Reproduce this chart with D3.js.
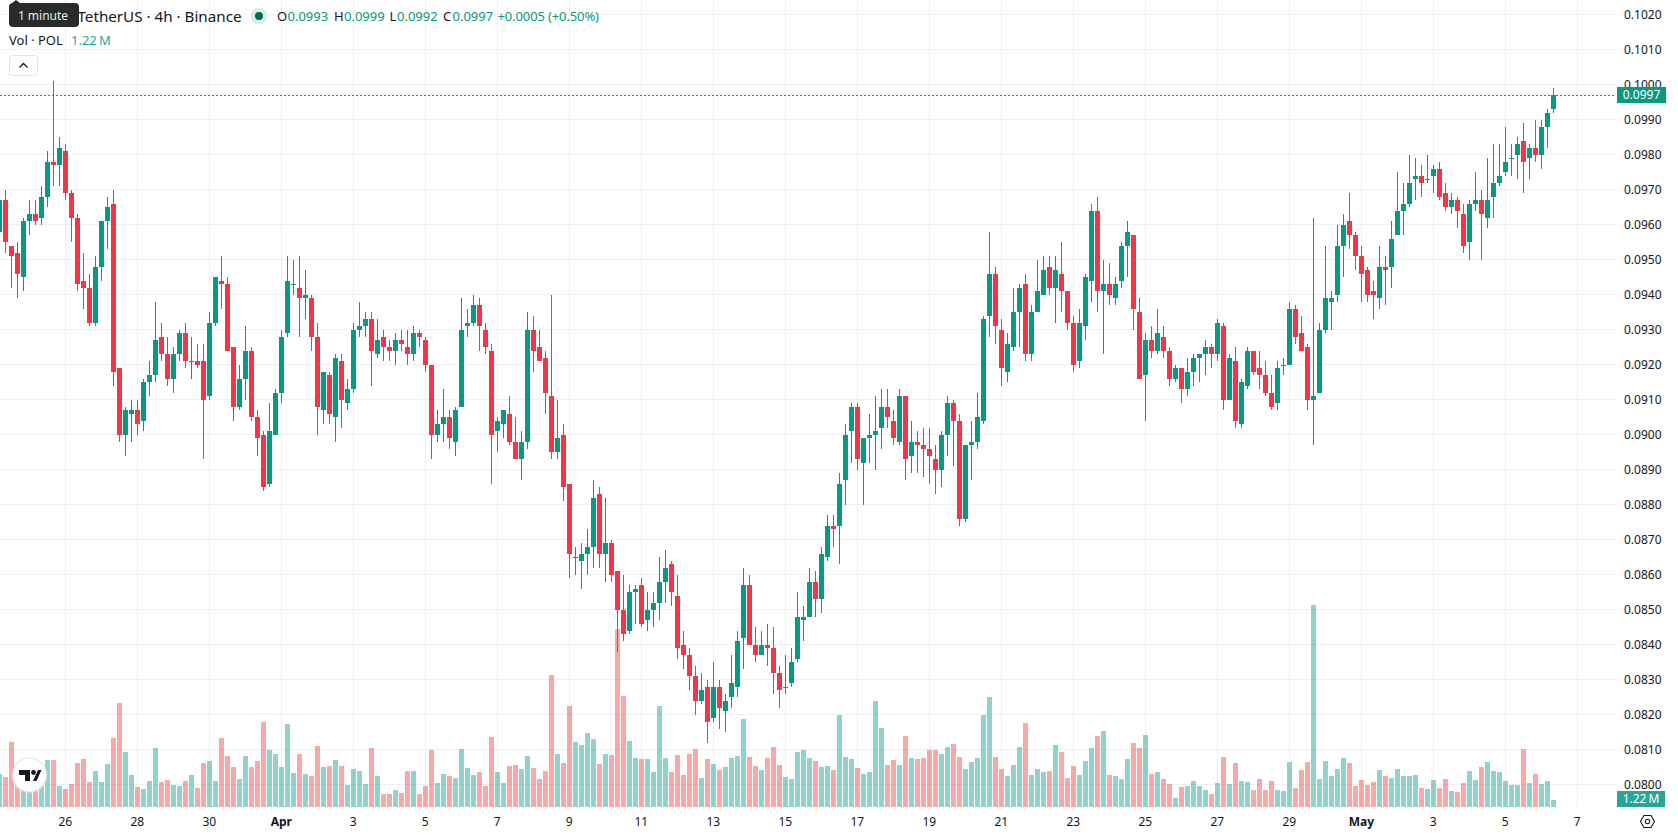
<!DOCTYPE html>
<html>
<head>
<meta charset="utf-8">
<title>POL / TetherUS 4h</title>
<script src="https://cdn.jsdelivr.net/npm/d3@7"></script>
<style>
  html, body { margin: 0; padding: 0; background: #fff; overflow: hidden; }
  svg { display: block; font-family: "Noto Sans", sans-serif; }
</style>
</head>
<body>
<svg id="chart" width="1678" height="835"></svg>
<script>
// Candle values are whole price ticks of 0.0001, oldest candle first, one candle every 4 hours.
const PRICE_TICK = 0.0001;
const opens = [958,967,954,952,945,961,963,962,968,978,977,981,969,962,944,942,932,948,961,966,919,900,906,907,904,915,917,928,923,916,923,929,921,921,921,911,932,944,943,925,908,916,924,905,900,886,900,912,929,943,942,939,939,928,907,917,905,921,909,913,930,931,933,923,928,925,924,927,925,923,929,927,920,900,903,905,898,908,931,932,937,930,924,901,903,906,898,893,898,930,925,922,911,895,900,886,865,864,866,868,883,866,869,861,850,844,855,857,847,850,852,858,863,854,840,837,831,824,828,819,828,821,825,828,842,857,840,837,840,839,832,828,829,836,847,848,858,853,865,874,874,887,901,908,892,899,900,902,908,904,898,911,894,898,897,896,893,890,900,909,904,876,897,898,904,934,946,930,918,925,935,943,923,935,940,948,942,946,941,932,921,931,944,964,941,943,939,944,954,957,935,917,927,924,928,924,916,919,913,918,922,923,925,923,931,910,921,903,914,924,919,917,912,909,920,920,936,929,925,910,912,930,938,940,954,961,957,951,947,941,939,948,948,957,964,966,973,974,973,974,976,969,965,967,963,955,966,967,962,968,972,975,979,980,984,979,982,980,988,993];
const highs = [970,970,954,955,962,967,967,971,981,1001,985,983,970,963,952,946,951,961,968,970,919,908,910,910,916,921,938,932,928,925,930,932,928,926,926,935,945,951,945,925,920,931,925,907,901,909,913,930,951,950,951,947,940,932,918,918,923,923,916,932,938,935,935,933,930,927,929,930,930,931,930,928,920,907,913,907,908,939,936,940,939,932,926,905,907,911,905,901,935,934,930,924,940,910,903,886,868,869,873,887,885,882,870,861,860,857,857,859,855,855,865,867,864,860,844,839,834,832,830,835,830,826,837,844,862,860,845,844,846,845,834,837,839,855,851,862,861,868,877,877,889,903,909,909,899,906,911,913,913,907,913,911,904,901,902,902,897,901,911,910,906,897,904,912,934,958,948,933,929,942,943,946,937,950,951,951,951,955,941,934,936,946,966,968,950,949,945,955,961,957,939,929,931,936,931,925,920,919,922,923,923,927,926,933,932,923,925,916,925,924,924,921,917,921,922,938,937,934,926,962,932,954,941,960,963,969,958,954,948,944,954,951,961,975,972,980,979,977,980,977,978,972,969,968,966,967,975,970,979,983,983,988,983,985,989,983,990,990,993,999];
const lows = [955,952,942,939,941,957,960,960,965,971,971,967,955,941,936,931,931,944,953,914,898,894,898,900,901,911,915,921,914,912,921,919,916,919,893,910,931,936,924,904,907,910,904,894,884,885,900,909,928,940,928,933,924,900,903,903,898,902,907,912,928,928,914,922,921,921,920,924,920,921,925,918,893,898,898,896,894,908,928,931,924,923,886,895,899,897,893,887,896,918,921,906,893,893,881,859,860,856,860,862,862,858,858,838,841,843,846,845,844,845,847,852,851,836,833,827,820,823,812,818,816,815,822,825,833,840,835,837,834,826,822,826,828,835,841,848,848,849,864,868,863,880,892,890,880,892,890,896,902,897,897,887,889,889,888,886,883,885,894,891,874,875,887,896,903,928,926,914,915,924,925,921,921,935,940,940,932,935,930,918,919,927,938,935,923,937,937,942,945,930,916,904,922,923,922,914,915,909,911,914,915,917,919,921,907,910,902,902,913,917,913,911,907,907,917,920,926,924,907,897,912,929,930,938,945,953,947,938,938,933,936,937,942,957,957,965,967,968,972,969,967,964,963,959,952,950,964,950,959,962,971,974,974,973,969,973,978,976,982,992];
const closes = [967,955,951,946,961,963,961,968,978,977,982,969,962,943,942,932,948,961,965,918,900,907,907,903,915,917,927,923,916,923,929,921,921,920,910,932,945,943,924,908,916,924,905,899,885,901,912,928,944,943,939,940,928,908,918,906,922,910,913,930,931,933,924,927,925,924,927,926,923,929,928,920,900,903,905,899,907,930,932,937,931,925,900,904,907,898,893,898,930,924,921,912,895,899,885,866,865,866,868,882,866,869,860,850,843,855,856,846,850,852,858,862,855,839,837,831,824,827,818,828,822,824,829,841,857,840,837,840,839,832,827,828,835,848,848,858,853,866,874,873,886,900,908,893,899,900,901,908,905,899,911,893,898,897,896,894,890,900,909,904,876,897,898,905,933,946,931,919,926,935,942,923,935,941,947,942,947,941,932,920,932,945,964,941,943,940,943,954,958,936,916,927,924,929,924,916,919,913,918,922,923,925,923,932,910,922,904,915,924,918,917,912,908,919,920,936,928,924,910,911,930,939,939,954,960,957,951,946,940,940,948,947,956,964,966,972,974,972,973,976,968,965,967,964,954,966,967,963,967,972,974,978,979,983,978,982,980,988,992,997];
// Traded volume per candle, in millions of POL.
const volumes = [5.75,5.23,11.33,4.01,2.96,2.61,2.96,4.71,8.19,8.19,3.66,3.14,4.01,7.67,8.37,4.36,6.27,4.36,7.49,12.03,18.13,9.59,5.58,3.49,3.14,4.53,10.28,4.36,4.71,3.83,3.66,4.53,5.58,3.31,7.67,8.02,4.53,12.03,8.89,6.97,4.88,8.89,6.97,8.02,14.82,9.94,9.24,6.97,14.47,5.93,9.24,5.75,5.40,10.63,6.97,7.15,8.19,7.15,3.83,6.62,6.27,4.01,10.28,5.40,2.27,2.27,2.96,2.44,6.27,6.27,2.27,3.66,9.94,4.18,5.75,5.40,5.05,10.11,6.80,5.58,6.10,3.66,12.20,6.10,4.18,7.15,7.32,6.62,8.89,6.80,4.88,6.27,23.01,9.24,7.67,17.60,11.33,10.81,12.90,11.85,7.49,9.24,9.06,31.03,19.35,11.50,8.54,8.37,8.37,6.10,17.60,8.54,6.10,9.06,5.58,9.24,10.11,5.05,8.37,7.49,6.45,6.97,8.54,8.89,15.34,8.72,7.15,6.45,8.54,10.46,7.32,5.23,4.88,9.59,9.94,8.54,8.02,6.97,7.15,6.45,16.04,8.72,8.37,6.80,5.75,6.10,18.48,13.77,7.32,8.19,7.32,12.38,8.54,8.37,8.54,9.94,9.94,9.24,10.46,10.98,8.72,6.62,7.84,8.54,16.04,19.17,8.72,6.62,5.40,7.32,10.46,14.64,5.58,6.62,6.10,6.27,10.81,9.59,5.05,7.15,5.58,8.02,10.28,12.38,13.25,5.58,5.40,4.88,8.37,11.16,10.28,12.55,5.75,6.10,4.88,4.01,1.57,3.49,3.66,4.53,3.66,2.96,2.27,4.18,8.72,4.01,7.67,4.53,4.36,2.96,4.88,2.96,4.53,2.96,2.79,7.84,3.31,6.45,7.84,35.21,4.88,8.02,5.40,6.62,8.54,7.67,3.66,4.71,3.83,4.36,6.45,5.40,5.05,6.62,5.40,5.40,5.58,3.31,3.14,4.71,3.31,4.88,2.79,2.61,4.18,6.27,4.71,6.97,7.84,6.27,6.10,4.53,3.83,3.83,10.11,4.18,5.75,4.01,4.53,1.22];

const priceTicks = d3.range(800, 1021, 10);
const firstCandle = Date.UTC(2026, 2, 24, 4);
const CANDLE_MS = 4 * 3600 * 1000;
const dateTicks = d3.utcDay.range(new Date(Date.UTC(2026, 2, 26)), new Date(Date.UTC(2026, 4, 8)), 2);

const COLOR_UP = "#089981", COLOR_DOWN = "#F23645";
const COLOR_VOL_UP = "rgba(38,166,154,0.5)", COLOR_VOL_DOWN = "rgba(239,83,80,0.5)";
const TEXT = "#131722", GRID = "#eeeff1";

const PANE_RIGHT = 1616, PANE_BOTTOM = 807;
const VOL_UNIT = "\u2009M";

const candles = opens.map((o, i) => ({
  time: new Date(firstCandle + i * CANDLE_MS),
  open: o, high: highs[i], low: lows[i], close: closes[i], volume: volumes[i],
  up: closes[i] >= o
}));

const x = d3.scaleUtc()
  .domain([new Date(Date.UTC(2026, 2, 26)), new Date(Date.UTC(2026, 4, 7))])
  .range([65.5, 1577.5]);
const y = d3.scaleLinear().domain([1000, 800]).range([84.5, 784.5]);
const yVol = d3.scaleLinear().domain([0, 40]).range([PANE_BOTTOM, PANE_BOTTOM - 229.6]);

const svg = d3.select("#chart");
svg.append("rect").attr("width", 1678).attr("height", 835).attr("fill", "#fff");

// Grid
const grid = svg.append("g").attr("stroke", GRID).attr("stroke-width", 1).attr("shape-rendering", "crispEdges");
grid.selectAll(".h").data(priceTicks).join("line").attr("class", "h")
  .attr("x1", 0).attr("x2", PANE_RIGHT).attr("y1", d => y(d)).attr("y2", d => y(d));
grid.selectAll(".v").data(dateTicks).join("line").attr("class", "v")
  .attr("x1", d => x(d)).attr("x2", d => x(d)).attr("y1", 0).attr("y2", PANE_BOTTOM);

// Volume bars sit under the candles
svg.append("g").attr("shape-rendering", "crispEdges")
  .selectAll("rect").data(candles).join("rect")
  .attr("x", d => x(d.time) - 2.5).attr("width", 5)
  .attr("y", d => yVol(d.volume)).attr("height", d => yVol(0) - yVol(d.volume))
  .attr("fill", d => d.up ? COLOR_VOL_UP : COLOR_VOL_DOWN);

// Candles
const candle = svg.append("g").attr("shape-rendering", "crispEdges")
  .selectAll("g").data(candles).join("g")
  .attr("fill", d => d.up ? COLOR_UP : COLOR_DOWN);
candle.append("rect")
  .attr("x", d => x(d.time) - 0.5).attr("width", 1)
  .attr("y", d => y(d.high)).attr("height", d => Math.max(1, y(d.low) - y(d.high)));
candle.append("rect")
  .attr("x", d => x(d.time) - 2.5).attr("width", 5)
  .attr("y", d => y(Math.max(d.open, d.close)))
  .attr("height", d => Math.max(1, Math.abs(y(d.open) - y(d.close))));

// Last price line
const last = candles[candles.length - 1];
const prev = candles[candles.length - 2];
svg.append("line")
  .attr("x1", 0).attr("x2", PANE_RIGHT).attr("y1", Math.floor(y(last.close)) + 0.5).attr("y2", Math.floor(y(last.close)) + 0.5)
  .attr("stroke", COLOR_UP).attr("stroke-width", 1).attr("stroke-dasharray", "2 2").attr("shape-rendering", "crispEdges");

// Price axis
const fmtPrice = v => (v * PRICE_TICK).toFixed(4);
const axisY = d3.axisRight(y).tickValues(priceTicks).tickSize(0).tickPadding(0).tickFormat(fmtPrice);
const gy = svg.append("g").attr("transform", "translate(1624,0)").call(axisY);
gy.select(".domain").remove();
gy.selectAll("text").attr("fill", TEXT).attr("font-size", 12).attr("font-family", '"Noto Sans", sans-serif');

// Date axis
const isMonthStart = d => d.getUTCDate() === 1;
const axisX = d3.axisBottom(x).tickValues(dateTicks).tickSize(0).tickPadding(0)
  .tickFormat(d => isMonthStart(d) ? d3.utcFormat("%b")(d) : d3.utcFormat("%-d")(d));
const gx = svg.append("g").attr("transform", "translate(-0.7,817)").call(axisX);
gx.select(".domain").remove();
gx.selectAll("text").attr("fill", TEXT).attr("font-size", 12).attr("font-family", '"Noto Sans", sans-serif')
  .attr("font-weight", d => isMonthStart(d) ? 700 : 400);

// Badges on the price axis
function badge(yTop, h, w, fill, label) {
  svg.append("rect").attr("x", 1617).attr("y", yTop).attr("width", w).attr("height", h).attr("fill", fill);
  svg.append("text").attr("x", 1617 + w / 2).attr("y", yTop + h / 2 + 0.5)
    .attr("text-anchor", "middle").attr("dominant-baseline", "middle")
    .attr("fill", "#fff").attr("font-size", 12).text(label);
}
badge(87, 16, 49, COLOR_UP, fmtPrice(last.close));
badge(791, 16, 48, "#26a69a", last.volume.toFixed(2) + VOL_UNIT);

// Legend, title row
const title = svg.append("g");
title.append("text").attr("x", 241.5).attr("y", 21.5).attr("text-anchor", "end")
  .attr("fill", TEXT).attr("font-size", 15.2).text("TetherUS · 4h · Binance");
title.append("circle").attr("cx", 259).attr("cy", 16).attr("r", 8.5).attr("fill", "#d9efec");
title.append("circle").attr("cx", 259).attr("cy", 16).attr("r", 4).attr("fill", "#056656");

const legendItems = [
  ["O", last.open, 277, 287.5], ["H", last.high, 334, 344],
  ["L", last.low, 389.5, 397], ["C", last.close, 443, 452.5]
];
const legend = svg.append("g").attr("font-size", 13);
legendItems.forEach(([k, v, kx, vx]) => {
  legend.append("text").attr("x", kx).attr("y", 21).attr("fill", TEXT).text(k);
  legend.append("text").attr("x", vx).attr("y", 21).attr("fill", COLOR_UP).text(fmtPrice(v));
});
const change = last.close - prev.close;
legend.append("text").attr("x", 497.5).attr("y", 21).attr("fill", COLOR_UP).attr("letter-spacing", -0.12)
  .text(`+${fmtPrice(change)} (+${(change / prev.close * 100).toFixed(2)}%)`);

// Legend, volume row
legend.append("text").attr("x", 9).attr("y", 45).attr("fill", TEXT).text("Vol · POL");
legend.append("text").attr("x", 71).attr("y", 45).attr("fill", "#26a69a").text(last.volume.toFixed(2) + VOL_UNIT);

// Collapse button
svg.append("rect").attr("x", 9.5).attr("y", 55.5).attr("width", 28).attr("height", 20).attr("rx", 3)
  .attr("fill", "#fff").attr("stroke", "#e0e3eb");
svg.append("path").attr("d", "M19.5 67.5 L23.5 63.5 L27.5 67.5").attr("fill", "none").attr("stroke", TEXT).attr("stroke-width", 1.3);

// Tooltip
svg.append("path").attr("d", "M12 3 L16 0 L20 3 Z").attr("fill", "#2a2a2a");
svg.append("rect").attr("x", 9).attr("y", 3).attr("width", 70).attr("height", 24).attr("rx", 4).attr("fill", "#2a2a2a");
svg.append("text").attr("x", 43).attr("y", 19.5).attr("text-anchor", "middle").attr("fill", "#e8e8e8").attr("font-size", 12).text("1 minute");

// Attribution logo
const logo = svg.append("g");
logo.append("circle").attr("cx", 29.5).attr("cy", 775).attr("r", 17).attr("fill", "#fff").attr("stroke", "#e6e6e6").attr("stroke-width", 1.2);
logo.append("path").attr("fill", "#131722").attr("d", "M19 770 H30 V781 H25 V775 H19 Z M33 781 L38 770 H41.5 L36.5 781 Z");
logo.append("circle").attr("cx", 33.5).attr("cy", 772.5).attr("r", 2.4).attr("fill", "#131722");

// Settings icon
const gear = svg.append("g").attr("transform", "translate(1647.5,821.5)").attr("fill", "none").attr("stroke", TEXT).attr("stroke-width", 1.1);
gear.append("path").attr("d", "M-7 0 L-3.5 -6 H3.5 L7 0 L3.5 6 H-3.5 Z");
gear.append("circle").attr("r", 2.2);
</script>
</body>
</html>
